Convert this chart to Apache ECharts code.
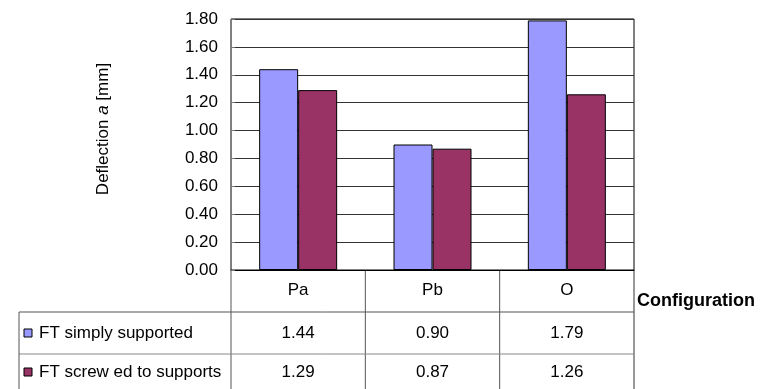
<!DOCTYPE html>
<html>
<head>
<meta charset="utf-8">
<script src="https://cdn.jsdelivr.net/npm/echarts@6/dist/echarts.min.js"></script>
<style>
  html, body { margin: 0; padding: 0; background: #fff; }
  #chart { width: 767px; height: 389px; }
</style>
</head>
<body>
<div id="chart"></div>
<script>
// Deflection per configuration, Excel-style column chart with a data table underneath.
const categories = ['Pa', 'Pb', 'O']
const seriesNames = ['FT simply supported', 'FT screw ed to supports']
const simplySupported = [1.44, 0.90, 1.79]
const screwed = [1.29, 0.87, 1.26]
const yTicks = [0, 0.2, 0.4, 0.6, 0.8, 1.0, 1.2, 1.4, 1.6, 1.8]
const colors = ['#9999ff', '#993366']

const FONT = '"Liberation Sans", Arial, sans-serif'
const FS = 17
const chart = echarts.init(document.getElementById('chart'))

chart.setOption({
  animation: false,
  textStyle: { fontFamily: FONT, color: '#000' },
  grid: { left: 231, right: 133, top: 19, bottom: 119, show: true, borderColor: '#000', borderWidth: 1 },
  xAxis: {
    type: 'category', data: categories,
    axisLine: { lineStyle: { color: '#000', width: 1 } },
    axisTick: { show: false },
    axisLabel: { fontSize: FS, color: '#000', margin: 12, fontFamily: FONT }
  },
  yAxis: {
    type: 'value', min: yTicks[0], max: yTicks[yTicks.length - 1], interval: 0.2,
    axisLine: { show: false },
    axisTick: { show: true, inside: true, length: 4, lineStyle: { color: '#777' } },
    splitLine: { lineStyle: { color: '#333', width: 1 } },
    axisLabel: { fontSize: FS, color: '#000', margin: 13, fontFamily: FONT, formatter: v => v.toFixed(2) }
  },
  series: [simplySupported, screwed].map((d, k) => ({
    name: seriesNames[k], type: 'bar', data: d, barWidth: 39, barGap: '0%',
    itemStyle: { color: colors[k], borderColor: '#000', borderWidth: 1 }
  }))
})

// data table below the axis, columns follow the category axis
const xs = categories.map(c => chart.convertToPixel({ xAxisIndex: 0 }, c))
const half = (xs[1] - xs[0]) / 2
const rowY = [333, 372]
const rows = [simplySupported, screwed]
const g = []
g.push({
  type: 'text', x: 103, y: 129, rotation: Math.PI / 2,
  style: {
    text: '{n|Deflection }{i|a}{n| [mm]}',
    align: 'center', verticalAlign: 'middle',
    rich: {
      n: { fontSize: 17, fontFamily: FONT, fill: '#000' },
      i: { fontSize: 17, fontFamily: FONT, fontStyle: 'italic', fill: '#000' }
    }
  }
})
// column separators at the category boundaries
xs.forEach(x => {
  g.push({ type: 'line', shape: { x1: x - half, y1: 270, x2: x - half, y2: 395 }, style: { stroke: '#555', lineWidth: 1 } })
})
g.push({ type: 'line', shape: { x1: xs[2] + half, y1: 270, x2: xs[2] + half, y2: 395 }, style: { stroke: '#333', lineWidth: 1 } })
g.push({ type: 'line', shape: { x1: 19, y1: 312, x2: xs[2] + half, y2: 312 }, style: { stroke: '#555', lineWidth: 1 } })
g.push({ type: 'line', shape: { x1: 19, y1: 354, x2: xs[2] + half, y2: 354 }, style: { stroke: '#888', lineWidth: 1 } })
g.push({ type: 'line', shape: { x1: 19, y1: 312, x2: 19, y2: 395 }, style: { stroke: '#555', lineWidth: 1 } })
rows.forEach((vals, r) => {
  g.push({ type: 'rect', shape: { x: 24, y: rowY[r] - 4, width: 8, height: 8 },
    style: { fill: colors[r], stroke: '#000', lineWidth: 1 } })
  g.push({ type: 'text', x: 39, y: rowY[r],
    style: { text: seriesNames[r], font: FS + 'px ' + FONT, fill: '#000', verticalAlign: 'middle' } })
  vals.forEach((v, i) => {
    g.push({ type: 'text', x: xs[i], y: rowY[r],
      style: { text: v.toFixed(2), font: FS + 'px ' + FONT, fill: '#000', align: 'center', verticalAlign: 'middle' } })
  })
})
g.push({ type: 'text', x: 637, y: 301,
  style: { text: 'Configuration', font: 'bold 18px ' + FONT, fill: '#000', verticalAlign: 'middle' } })
chart.setOption({ graphic: g })
</script>
</body>
</html>
